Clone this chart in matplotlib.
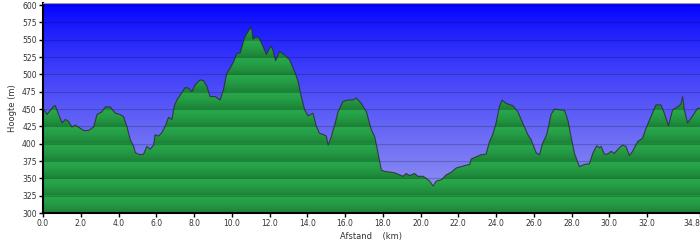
import numpy as np
import matplotlib.pyplot as plt
from matplotlib.patches import Polygon

# Hoogteprofiel: afstand (km) en hoogte (m)
afstand = [0, 0.21, 0.56, 0.65, 0.83, 1.01, 1.18, 1.36, 1.53, 1.71, 1.98, 2.15, 2.42, 2.68, 2.86,
           3.12, 3.30, 3.56, 3.83, 4.09, 4.27, 4.44, 4.62, 4.80, 4.89, 5.15, 5.33, 5.50, 5.68, 5.86,
           5.94, 6.12, 6.30, 6.47, 6.65, 6.83, 6.95, 7.09, 7.27, 7.53, 7.71, 7.88, 8.06, 8.32, 8.50,
           8.68, 8.85, 9.12, 9.38, 9.56, 9.74, 9.91, 10.09, 10.27, 10.44,
           10.69, 10.86, 10.99, 11.04, 11.13, 11.27, 11.44, 11.66, 11.83, 11.97, 12.09, 12.18, 12.32,
           12.53, 12.80, 13.06, 13.33, 13.51, 13.68, 13.86, 14.04, 14.30, 14.48, 14.65, 14.87, 15.01,
           15.10, 15.27, 15.45, 15.63, 15.89, 16.16, 16.42, 16.60, 16.86, 17.13, 17.39, 17.57, 17.75,
           17.92, 18.10, 18.36, 18.63, 18.89, 19.07, 19.24, 19.42, 19.68, 19.86, 20.13, 20.30, 20.48,
           20.66, 20.83, 21.10, 21.36, 21.63, 21.89, 22.16, 22.42, 22.60,
           22.68, 22.94, 23.20, 23.47, 23.65, 23.82, 24.00, 24.18, 24.32, 24.53, 24.88, 25.15, 25.41,
           25.68, 25.85, 26.12, 26.30, 26.47, 26.68, 26.91, 27.09, 27.35, 27.62, 27.80, 27.97, 28.15,
           28.41, 28.68, 28.94, 29.12, 29.33, 29.47, 29.56, 29.73, 29.91, 30.09, 30.26, 30.53, 30.70,
           30.88, 31.06, 31.23, 31.50, 31.76, 31.94, 32.20, 32.47, 32.73, 32.91, 33.13, 33.35, 33.61,
           33.79, 33.88, 33.97, 34.14, 34.41, 34.67, 34.80]
hoogte = [452, 442, 454, 455, 442, 430, 435, 432, 424, 427, 422, 419, 419, 424, 442,
          446, 453, 453, 444, 442, 439, 425, 406, 396, 387, 384, 385, 396, 392, 398,
          413, 411, 416, 425, 438, 435, 454, 463, 470, 481, 480, 475, 485, 492, 491,
          483, 468, 468, 463, 478, 502, 509, 518, 530, 531,
          554, 562, 566, 569, 551, 554, 553, 540, 529, 536, 541, 535, 520,
          533, 528, 521, 504, 490, 468, 449, 440, 444, 425, 415, 413, 411,
          398, 410, 427, 446, 461, 463, 463, 466, 458, 446, 420, 410, 386,
          362, 360, 359, 358, 355, 353, 357, 354, 357, 353, 353, 350, 346,
          339, 346, 348, 355, 359, 365, 367, 369, 370,
          378, 381, 384, 385, 403, 413, 430, 454, 463, 458, 455, 446, 430,
          413, 406, 387, 384, 401, 413, 442, 450, 449, 448, 434, 410, 386,
          367, 370, 371, 386, 397, 394, 396, 385, 385, 389, 386, 394, 398,
          396, 383, 389, 403, 408, 422, 439, 456, 456, 444, 426, 449, 453,
          457, 468, 449, 430, 440, 451, 451]

x_ticks = [0, 2, 4, 6, 8, 10, 12, 14, 16, 18, 20, 22, 24, 26, 28, 30, 32, 34.8]
y_ticks = list(range(300, 601, 25))

xmax = 34.8
ymin, ymax = 300, 603

fig = plt.figure(figsize=(7, 2.43), dpi=100)
ax = fig.add_axes([43 / 700, 30 / 243, 657 / 700, 210 / 243])
ax.set_xlim(0, xmax)
ax.set_ylim(ymin, ymax)

# blauwe achtergrond (verloop)
yy = np.linspace(ymin, ymax, 600)
t = (yy - ymin) / (ymax - ymin)
rg = 155 * (1 - t) ** 0.8
bg = np.zeros((len(yy), 1, 3))
bg[:, 0, 0] = rg / 255
bg[:, 0, 1] = rg / 255
bg[:, 0, 2] = (240 + 15 * t) / 255
ax.imshow(bg, extent=[0, xmax, ymin, ymax], origin='lower', aspect='auto', zorder=0)

# groene vulling: per band van 25 m licht boven, donker onder
phase = ((yy - ymin) % 25) / 25
d = (1 - phase) ** 1.5
light = np.array([40, 168, 76]) / 255
dark = np.array([28, 128, 54]) / 255
gr = light[None, :] * (1 - d[:, None]) + dark[None, :] * d[:, None]
gr = gr[:, None, :]
img = ax.imshow(gr, extent=[0, xmax, ymin, ymax], origin='lower', aspect='auto', zorder=1)
verts = [(afstand[0], ymin)] + list(zip(afstand, hoogte)) + [(afstand[-1], ymin)]
poly = Polygon(verts, closed=True, facecolor='none', edgecolor='none')
ax.add_patch(poly)
img.set_clip_path(poly)

ax.plot(afstand, hoogte, color='#2a2a2a', lw=0.8, alpha=0.8, zorder=3)

for y in y_ticks[1:]:
    ax.axhline(y, color='black', alpha=0.2, lw=0.8, zorder=2)

ax.set_xticks(x_ticks)
ax.set_xticklabels(['%.1f' % v for v in x_ticks])
ax.set_yticks(y_ticks)
ax.set_yticklabels([str(v) for v in y_ticks])
ax.get_xticklabels()[-1].set_ha('right')
ax.tick_params(direction='out', length=3, width=1, color='black',
               labelsize=5.5, labelcolor='#333333', pad=1.5)

for s in ['left', 'bottom']:
    ax.spines[s].set_linewidth(1.5)
    ax.spines[s].set_color('black')
ax.spines['top'].set_color('#999999')
ax.spines['right'].set_visible(False)

ax.set_xlabel('Afstand    (km)', fontsize=6, color='#333333', labelpad=3)
ax.set_ylabel('Hoogte (m)', fontsize=6, color='#333333', labelpad=4)

fig.savefig('out.png', dpi=100)
